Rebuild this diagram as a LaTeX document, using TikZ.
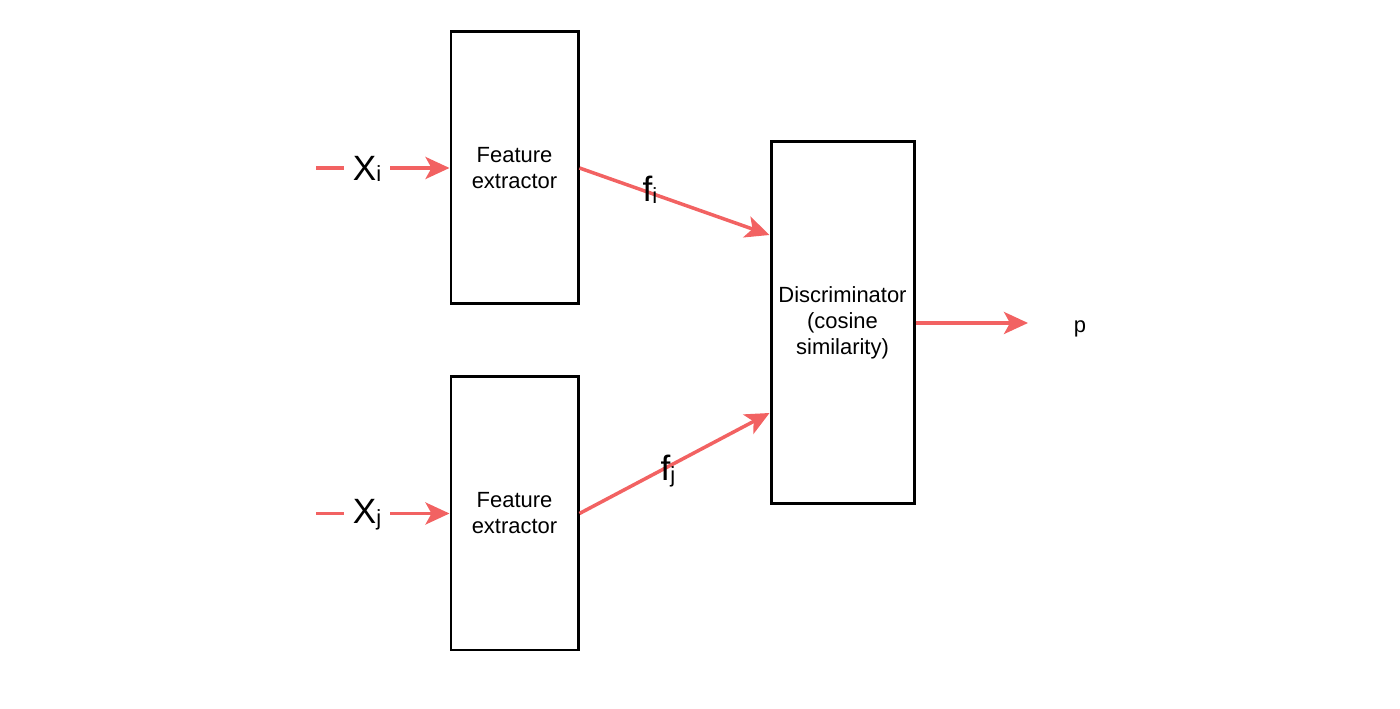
\documentclass[tikz,border=0pt]{standalone}
\usepackage{fontspec}
\setmainfont{Liberation Sans}
\usetikzlibrary{arrows.meta}
\definecolor{arrowRed}{RGB}{242,98,98}
\newcommand{\bigLabel}[2]{\fontsize{20}{24}\selectfont #1\raisebox{-1pt}{\fontsize{12.5}{15}\selectfont #2}}
\begin{document}
\begin{tikzpicture} [block/.style={shape=rectangle,draw=black,line width=1.7pt,align=center,font=\fontsize{12.5}{14.8}\selectfont},
	redLine/.style={draw=arrowRed,line width=2pt},
	redArrow/.style={redLine,-{Stealth[length=0.48cm,width=0.44cm,inset=0.12cm]}}]
	\useasboundingbox (0,0) rectangle (28,14.18);
	\node (featNodeA) at (10.29,10.82)[block,minimum width=2.54cm,minimum height=5.44cm] {Feature\\extractor};
	\node (featNodeB) at (10.29,3.91)[block,minimum width=2.54cm,minimum height=5.46cm] {Feature\\extractor};
	\node (discNode) at (16.85,7.72)[block,minimum width=2.86cm,minimum height=7.24cm] {Discriminator\\(cosine\\similarity)};

	\coordinate (xiStart) at (6.32,10.82);
	\coordinate (xjStart) at (6.32,3.91);
	\node (xiLabel) at (7.34,10.8)[inner sep=0.17cm] {\bigLabel{X}{i}};
	\node (xjLabel) at (7.34,3.89)[inner sep=0.17cm] {\bigLabel{X}{j}};
	\draw[redLine] (xiStart) -- (xiLabel.west |- xiStart);
	\draw[redLine] (xjStart) -- (xjLabel.west |- xjStart);
	\draw[redArrow] (xiLabel.east |- xiStart) -- (featNodeA.west);
	\draw[redArrow] (xjLabel.east |- xjStart) -- (featNodeB.west);

	\draw[redArrow] (featNodeA.east) -- ([yshift=1.76cm]discNode.west);
	\draw[redArrow] (featNodeB.east) -- ([yshift=-1.8cm]discNode.west);
	\node (fiLabel) at (13.0,10.38) {\bigLabel{f}{i}};
	\node (fjLabel) at (13.36,4.76) {\bigLabel{f}{j}};

	\coordinate (pTip) at (20.56,7.72);
	\draw[redArrow] (discNode.east) -- (pTip);
	\node (pLabel) at (21.6,7.6)[font=\fontsize{12.5}{15}\selectfont] {p};
\end{tikzpicture}
\end{document}
